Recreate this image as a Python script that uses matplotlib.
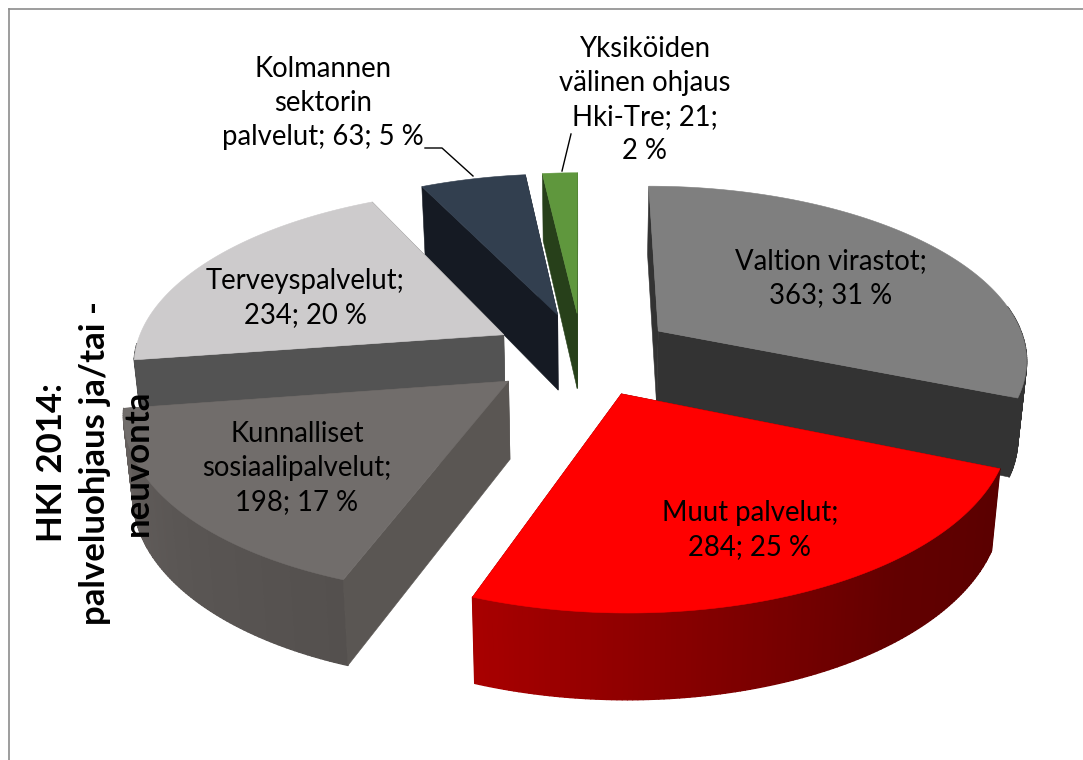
#!/usr/bin/env python3
"""Exploded 3D pie: HKI 2014 palveluohjaus ja/tai -neuvonta."""

import numpy as np
import matplotlib
matplotlib.use("Agg")
import matplotlib.pyplot as plt
from matplotlib.collections import PolyCollection
from matplotlib.colors import to_rgb
from matplotlib.patches import Polygon

plt.rcParams["font.family"] = ["Lato", "DejaVu Sans"]

# ── Data ─────────────────────────────────────────────────────────────
categories = ["Valtion virastot", "Muut palvelut", "Kunnalliset sosiaalipalvelut",
              "Terveyspalvelut", "Kolmannen sektorin palvelut",
              "Yksiköiden välinen ohjaus Hki-Tre"]
values = [363, 284, 198, 234, 63, 21]
percents = [31, 25, 17, 20, 5, 2]
label_lines = [
    "Valtion virastot;\n363; 31 %",
    "Muut palvelut;\n284; 25 %",
    "Kunnalliset\nsosiaalipalvelut;\n198; 17 %",
    "Terveyspalvelut;\n234; 20 %",
    "Kolmannen\nsektorin\npalvelut; 63; 5 %",
    "Yksiköiden\nvälinen ohjaus\nHki-Tre; 21;\n2 %",
]
title = "HKI 2014:\npalveluohjaus ja/tai -\nneuvonta"

# ── Styles, per slice: top, cut face, rim colours (rim runs from slice start to end) ──
top_colors = ["#7f7f7f", "#ff0000", "#716d6b", "#cdcbcc", "#323f4f", "#5f973d"]
cut_colors = ["#333333", "#5e0000", "#5a5653", "#535353", "#151a23", "#27401a"]
rim_stops = [
    ["#333333", "#333333"],
    ["#5a0000", "#620000", "#840000", "#a80000"],
    ["#54504e", "#5a5654", "#65605e"],
    ["#505050", "#505050"],
    ["#151a23", "#151a23"],
    ["#27401a", "#27401a"],
]
label_xy = [(831, 278), (750, 530), (297, 468), (305, 298), (323, 103), (645, 100)]
draw_order = [4, 5, 0, 3, 2, 1]
nudge_x = [3, 2, -2, 0, 0, 0]

# Projection of the pie plane (radius 1) to pixels
X0, Y0 = 582, 354
A, B = 370, 173
PERSP = 0.15
EXPLODE = 0.243
DEPTH, DEPTH_SLOPE = 77, 8
BOTTOM_SHRINK = 0.98


def project(x, y):
    w = 1 + PERSP * y
    return X0 + A * x / w, Y0 - B * y / w


def project_bottom(x, y):
    px, py = project(x, y)
    return X0 + (px - X0) * BOTTOM_SHRINK, py + DEPTH - DEPTH_SLOPE * y


def lerp_colors(stops, n):
    rgb = np.array([to_rgb(c) for c in stops])
    pos = np.linspace(0, 1, len(stops))
    t = np.linspace(0, 1, n)
    return np.column_stack([np.interp(t, pos, rgb[:, i]) for i in range(3)])


def rim_visible(a):
    # right side shows a bit past 3 o'clock, left side does not
    limit = 0.15 if np.sin(a) > 0 else -0.05
    return np.cos(a) < limit


def draw_slice(ax, t0, t1, i):
    mid = np.radians((t0 + t1) / 2)
    ox, oy = EXPLODE * np.sin(mid), EXPLODE * np.cos(mid)
    n = max(8, int((t1 - t0) * 1.5))
    t = np.radians(np.linspace(t0, t1, n))
    x, y = ox + np.sin(t), oy + np.cos(t)
    dx = nudge_x[i]

    tx, ty = project(x, y)
    bx, by = project_bottom(x, y)
    tx, bx = tx + dx, bx + dx
    ap_x, ap_y = project(ox, oy)
    ab_x, ab_y = project_bottom(ox, oy)
    ap_x, ab_x = ap_x + dx, ab_x + dx

    face0 = [(ap_x, ap_y), (tx[0], ty[0]), (bx[0], by[0]), (ab_x, ab_y)]
    face1 = [(ap_x, ap_y), (tx[-1], ty[-1]), (bx[-1], by[-1]), (ab_x, ab_y)]
    # a cut face shows only if it turns toward the viewer
    show0 = np.sin(np.radians(t0)) <= 0
    show1 = np.sin(np.radians(t1)) > 1e-9

    def add_face(pts):
        ax.add_patch(Polygon(pts, closed=True, fc=cut_colors[i], ec=cut_colors[i],
                             lw=0.4, zorder=2))

    if not show0:
        add_face(face0)
    if not show1:
        add_face(face1)

    # rim, front part only (the back part would peek out past the top)
    colors = lerp_colors(rim_stops[i], n - 1)
    keep = [k for k in range(n - 1) if rim_visible(t[k]) and rim_visible(t[k + 1])]
    quads = [[(tx[k], ty[k]), (tx[k + 1], ty[k + 1]), (bx[k + 1], by[k + 1]), (bx[k], by[k])]
             for k in keep]
    if quads:
        ax.add_collection(PolyCollection(quads, facecolors=colors[keep], edgecolors=colors[keep],
                                         linewidths=1.0, zorder=2))

    if show0:
        add_face(face0)
    if show1:
        add_face(face1)

    top = np.column_stack([np.r_[ap_x, tx], np.r_[ap_y, ty]])
    ax.add_patch(Polygon(top, closed=True, fc=top_colors[i], ec=top_colors[i], lw=0.4, zorder=2))


def main():
    fig = plt.figure(figsize=(10.83, 7.6), dpi=100)
    ax = fig.add_axes([0, 0, 1, 1])
    ax.set_xlim(0, 1083)
    ax.set_ylim(760, 0)
    ax.axis("off")

    # chart border (runs off the bottom and right of the picture)
    ax.plot([9, 9], [770, 8.5], color="#8c8c8c", lw=1.2)
    ax.plot([9, 1090], [8.5, 8.5], color="#8c8c8c", lw=1.2)

    # slice angles clockwise from 12 o'clock
    vals = np.array(values, dtype=float)
    edges = np.r_[0, np.cumsum(vals)] / vals.sum() * 360
    for i in draw_order:
        draw_slice(ax, edges[i], edges[i + 1], i)

    # leader lines
    ax.plot([425, 442, 473], [148, 148, 176], color="black", lw=1, zorder=3)
    ax.plot([562, 571], [171, 134], color="black", lw=1, zorder=3)

    for txt, (lx, ly) in zip(label_lines, label_xy):
        ax.text(lx, ly, txt, ha="center", va="center", fontsize=19.8,
                linespacing=1.37, color="black", zorder=4)

    ax.text(95, 463, title, rotation=90, ha="center", va="center", multialignment="center",
            fontsize=25, fontweight="bold", linespacing=1.42, color="black", zorder=4)

    fig.savefig("out.png", dpi=100, facecolor="white")
    plt.close(fig)


if __name__ == "__main__":
    main()
